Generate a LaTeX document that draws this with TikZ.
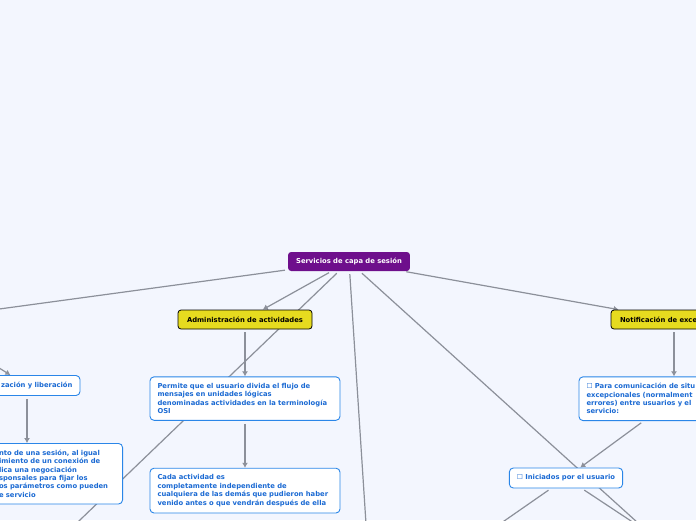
\documentclass[tikz,border=0pt]{standalone}
\usepackage{fontspec}
\setmainfont{DejaVu Sans}
\usetikzlibrary{arrows.meta,backgrounds,positioning}
\definecolor{SMBack}{HTML}{F3F6FE}
\definecolor{SMPurple}{HTML}{6E0F8C}
\definecolor{SMYellow}{HTML}{E6DB1F}
\definecolor{SMBlue}{HTML}{2A86E8}
\definecolor{SMBlueText}{HTML}{1B6AD3}
\definecolor{SMLink}{HTML}{8C909A}
\newcommand{\smfont}{\fontsize{6.8}{8.4}\selectfont\bfseries}
\newcommand{\smcheck}{{\mdseries\char"2610}}
\tikzset{
  smroot/.style={fill=SMPurple, rounded corners=3pt, text=white,
                 minimum height=19pt, inner xsep=8pt, font=\smfont},
  smtopic/.style={fill=SMYellow, draw=black, line width=0.8pt, rounded corners=3pt,
                  minimum height=19pt, inner xsep=9pt, font=\smfont},
  smnote/.style={fill=white, draw=SMBlue, line width=0.9pt, rounded corners=4pt,
                 text=SMBlueText, align=left, inner xsep=7.5pt, inner ysep=6.5pt, font=\smfont},
  smlink/.style={draw=SMLink, line width=1.2pt, shorten <=3pt,
                 -{Latex[length=5pt,width=6pt]}},
}
\begin{document}
\begin{tikzpicture}[x=1pt,y=-1pt]
  \useasboundingbox (0,0) rectangle (696,520);
  \clip (0,0) rectangle (696,520);
  % main topics
  \node[smroot] (root) at (349,261.5) {Servicios de capa de sesión};
  \node[smtopic] (admin) at (245,319.5) {Administración de actividades};
  \node[smtopic, text width=108pt, align=left] (notif) at (674,319.5) {Notificación de exce};
  \coordinate (sesion) at (-78,319.5);
  % notes
  \node[smnote, text width=91pt, align=right, minimum height=20pt] (zac) at (27,385.5) {zación y liberación};
  \node[smnote, text width=116pt, anchor=north east] (leftbox) at (123,443)
    {nto de una sesión, al igual\\imiento de un conexión de\\lica una negociación\\sponsales para fijar los\\os parámetros como pueden\\e servicio};
  \node[smnote, text width=175pt, below=47pt of admin] (permite)
    {Permite que el usuario divida el flujo de\\mensajes en unidades lógicas\\denominadas actividades en la terminología\\OSI};
  \node[smnote, text width=175pt, below=47pt of permite] (cada)
    {Cada actividad es\\completamente independiente de\\cualquiera de las demás que pudieron haber\\venido antes o que vendrán después de ella};
  \node[smnote, text width=175pt, below=47pt of notif] (para)
    {\smcheck{} Para comunicación de situ\\excepcionales (normalment\\errores) entre usuarios y el\\servicio:};
  \node[smnote, minimum height=20pt] (inic) at (566,478) {\smcheck{} Iniciados por el usuario};
  % branches leaving the page
  \coordinate (offsw) at (30,568);
  \coordinate (offs) at (369,570);
  \coordinate (offse) at (690,570);
  \coordinate (inicsw) at (448,560);
  \coordinate (inicse) at (690,560);
  \begin{pgfonlayer}{background}
    \fill[SMBack] (0,0) rectangle (696,520);
    \draw[smlink] (root) -- (sesion);
    \draw[smlink] (root) -- (admin);
    \draw[smlink] (root) -- (offsw);
    \draw[smlink] (root) -- (offs);
    \draw[smlink] (root) -- (offse);
    \draw[smlink] (root) -- (notif);
    \draw[smlink] (sesion) -- (zac);
    \draw[smlink] (zac) -- (zac |- leftbox.north);
    \draw[smlink] (admin) -- (permite);
    \draw[smlink] (permite) -- (cada);
    \draw[smlink] (notif) -- (para);
    \draw[smlink] (para) -- (inic);
    \draw[smlink] (inic) -- (inicsw);
    \draw[smlink] (inic) -- (inicse);
  \end{pgfonlayer}
\end{tikzpicture}
\end{document}
